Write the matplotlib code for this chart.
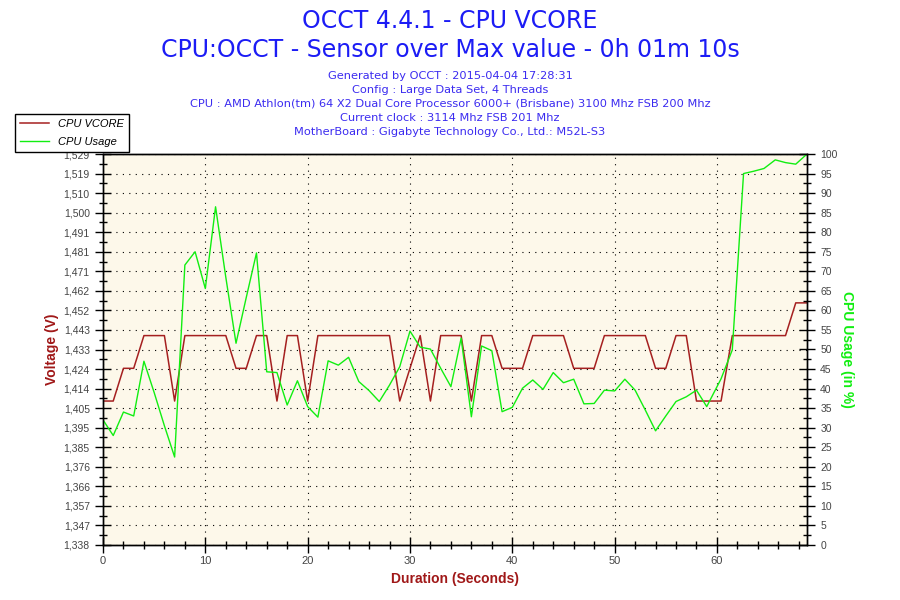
import matplotlib
matplotlib.use("Agg")
import matplotlib.pyplot as plt
from matplotlib import font_manager
from matplotlib.ticker import FixedLocator, MultipleLocator

# police etroite si dispo (les libelles d'OCCT sont en Arial Narrow)
noms = {f.name for f in font_manager.fontManager.ttflist}
etroite = "Liberation Sans Narrow" if "Liberation Sans Narrow" in noms else "Liberation Sans"

# temps des mesures (s) : l'echantillonnage ralentit a la fin sous 100 % de charge
secondes = list(range(60)) + [60.4, 61.5, 62.6, 63.6, 64.6, 65.7, 66.7, 67.7, 68.8]

vcore = [1.408, 1.408, 1.424, 1.424, 1.440, 1.440, 1.440, 1.408, 1.440, 1.440,
         1.440, 1.440, 1.440, 1.424, 1.424, 1.440, 1.440, 1.408, 1.440, 1.440,
         1.408, 1.440, 1.440, 1.440, 1.440, 1.440, 1.440, 1.440, 1.440, 1.408,
         1.424, 1.440, 1.408, 1.440, 1.440, 1.440, 1.408, 1.440, 1.440, 1.424,
         1.424, 1.424, 1.440, 1.440, 1.440, 1.440, 1.424, 1.424, 1.424, 1.440,
         1.440, 1.440, 1.440, 1.440, 1.424, 1.424, 1.440, 1.440, 1.408, 1.408,
         1.408, 1.440, 1.440, 1.440, 1.440, 1.440, 1.440, 1.456, 1.456]

usage = [32, 28, 34, 33, 47, 39, 30.5, 22.5, 71.6, 75,
         65.6, 86.5, 68.5, 51.6, 63.3, 74.7, 44.3, 44.1, 35.8, 42,
         35.4, 32.7, 47.1, 46, 48, 41.8, 39.5, 36.7, 40.9, 45.6,
         54.7, 50.6, 50.1, 45.2, 40.5, 52.9, 32.8, 50.9, 49.7, 34.1,
         35.2, 40.1, 42.2, 39.8, 44.1, 41.5, 42.4, 36.1, 36.2, 39.6,
         39.4, 42.4, 39.6, 34.5, 29.2, 33, 36.7, 37.9, 39.6, 35.4,
         42.5, 49.9, 95, 95.6, 96.3, 98.5, 97.8, 97.4, 100]

# graduations de tension telles qu'affichees par OCCT
volt_min, volt_max = 1.3376, 1.5288
volt_labels = ["1,338", "1,347", "1,357", "1,366", "1,376", "1,385", "1,395",
               "1,405", "1,414", "1,424", "1,433", "1,443", "1,452", "1,462",
               "1,471", "1,481", "1,491", "1,500", "1,510", "1,519", "1,529"]

titre = "OCCT 4.4.1 - CPU VCORE"
sous_titre = "CPU:OCCT - Sensor over Max value - 0h 01m 10s"
infos = ["Generated by OCCT : 2015-04-04 17:28:31",
         "Config : Large Data Set, 4 Threads",
         "CPU : AMD Athlon(tm) 64 X2 Dual Core Processor 6000+ (Brisbane) 3100 Mhz FSB 200 Mhz",
         "Current clock : 3114 Mhz FSB 201 Mhz",
         "MotherBoard : Gigabyte Technology Co., Ltd.: M52L-S3"]

rouge = "#a52020"
vert = "#11ee11"
bleu = "#1c1cf5"

fig = plt.figure(figsize=(9, 6), dpi=100)
fig.patch.set_facecolor("white")
ax = fig.add_axes([103 / 900, 55 / 600, 704 / 900, 391 / 600])
ax.set_facecolor("#fdf8ea")
ax2 = ax.twinx()

l1, = ax.plot(secondes, vcore, color=rouge, lw=1.1, label="CPU VCORE")
l2, = ax2.plot(secondes, usage, color=vert, lw=1.0, label="CPU Usage")

ax.set_xlim(0, 68.8)
ax.set_ylim(volt_min, volt_max)
ax2.set_ylim(0, 100)

pas = (volt_max - volt_min) / 20
pos_volt = [volt_min + i * pas for i in range(21)]
ax.yaxis.set_major_locator(FixedLocator(pos_volt))
ax.set_yticklabels(volt_labels)
ax.yaxis.set_minor_locator(FixedLocator([p + pas / 2 for p in pos_volt[:-1]]))
ax.xaxis.set_major_locator(MultipleLocator(10))
ax.xaxis.set_minor_locator(MultipleLocator(2))
ax2.yaxis.set_major_locator(MultipleLocator(5))
ax2.yaxis.set_minor_locator(MultipleLocator(2.5))

ax.tick_params(which="major", direction="inout", length=12, width=1, color="black",
               labelsize=7.5, labelcolor="#444444")
ax.tick_params(which="minor", direction="inout", length=6, width=1, color="black")
ax.tick_params(axis="x", which="both", top=False, pad=2)
ax2.tick_params(axis="y", which="major", direction="inout", length=12, width=1,
                color="black", labelsize=7.5, labelcolor="#444444")
ax2.tick_params(axis="y", which="minor", direction="inout", length=6, width=1, color="black")
ax2.tick_params(axis="x", which="both", top=False, bottom=False, labeltop=False)
for a in (ax, ax2):
    for s in a.spines.values():
        s.set_linewidth(1)
        s.set_color("black")
for lab in ax.get_xticklabels():
    lab.set_fontfamily(etroite)
    lab.set_fontsize(8)
for lab in ax.get_yticklabels() + ax2.get_yticklabels():
    lab.set_fontfamily("Liberation Sans")

ax.grid(True, which="major", color="black", lw=0.8, linestyle=(0, (1, 4.8)))

ax.set_xlabel("Duration (Seconds)", color="#a01818", fontsize=10, fontweight="bold",
              family=etroite, labelpad=4)
ax.set_ylabel("Voltage (V)", color="#a01818", fontsize=10, fontweight="bold",
              family="Liberation Sans", labelpad=3)
ax2.set_ylabel("CPU Usage (in %)", color=vert, fontsize=10, fontweight="bold",
               family="Liberation Sans", rotation=-90, labelpad=12)

fig.text(0.5, 1 - 21 / 600, titre, ha="center", va="center", fontsize=17, color=bleu)
fig.text(0.5, 1 - 50 / 600, sous_titre, ha="center", va="center", fontsize=17, color=bleu)
for i, ligne in enumerate(infos):
    fig.text(0.5, 1 - (76 + i * 14) / 600, ligne, ha="center", va="center",
             fontsize=8.2, color="#3b2bf0")

leg = fig.legend([l1, l2], ["CPU VCORE", "CPU Usage"], loc="upper left",
                 bbox_to_anchor=(15 / 900, 1 - 114 / 600), borderaxespad=0,
                 fancybox=False, edgecolor="black", framealpha=1, borderpad=0.45,
                 labelspacing=0.75, handlelength=2.6, handletextpad=0.8,
                 prop={"family": "Liberation Sans", "style": "italic", "size": 8})
leg.get_frame().set_linewidth(1)

fig.savefig("out.png", dpi=100)
